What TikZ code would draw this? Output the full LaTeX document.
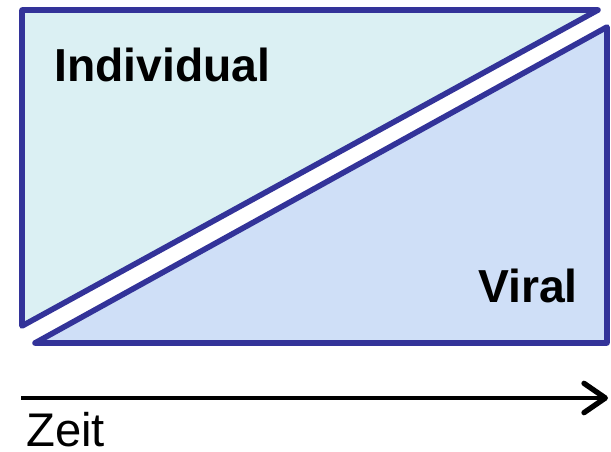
\documentclass[tikz,border=0pt]{standalone}
\usepackage{fontspec}
\setmainfont{Liberation Sans}
\usepackage{tikz}
\usetikzlibrary{arrows.meta}
\definecolor{edgeblue}{RGB}{51,51,153}
\definecolor{indfill}{RGB}{219,240,243}
\definecolor{virfill}{RGB}{207,223,247}

\begin{document}
\begin{tikzpicture}[x=0.75pt, y=-0.75pt,
    tri/.style = {draw=edgeblue, line width=4.2pt, line join=round},
    lbl/.style = {inner sep=0pt, font=\fontsize{34.7}{40}\selectfont\bfseries},
    timeaxis/.style = {line width=3.4pt, -{Straight Barb[length=16pt, width=22pt, line width=4pt, round]}}]
    \useasboundingbox (0,0) rectangle (611,452);
    % the two halves
    \draw[tri, fill=indfill] (22,10) -- (598,10) -- (22,326) -- cycle;
    \draw[tri, fill=virfill] (35,343) -- (607,27) -- (607,343) -- cycle;
    \node[lbl, anchor=base west] (ind) at (54,82) {Individual};
    \node[lbl, anchor=base east] (vir) at (578,303) {Viral};
    % time
    \coordinate (t0) at (21,398);
    \coordinate (t1) at (608,398);
    \draw[timeaxis] (t0) -- (t1);
    \node[inner sep=0pt, anchor=base west, font=\fontsize{35.4}{40}\selectfont] (zeit) at (26,446) {Zeit};
\end{tikzpicture}
\end{document}
